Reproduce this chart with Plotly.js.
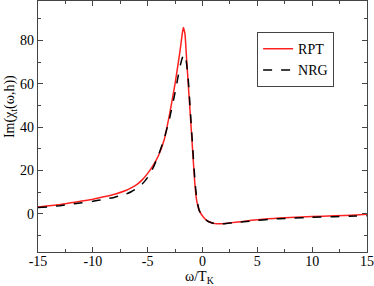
<!DOCTYPE html>
<html><head><meta charset="utf-8">
<script src="https://cdn.plot.ly/plotly-3.0.1.min.js"></script>
<style>
html,body{margin:0;padding:0;background:#fff}
#chart svg text{font-family:"Liberation Serif","Times New Roman",serif !important;}
</style>
</head><body><div id="chart" style="width:374px;height:286px"></div>
<script>
const rptX = [-15,-14,-13,-12,-11,-10,-9,-8,-7,-6.5,-6,-5.5,-5,-4.5,-4,-3.5,-3,-2.5,-2.2,-2,-1.85,-1.75,-1.6,-1.44,-1.3,-1.14,-0.9,-0.7,-0.53,-0.3,0.07,0.5,1.14,1.5,2,3,4,5,6,7,8,10,12,14,15];
const rptY = [3.1,3.6,4.2,5.0,5.8,6.7,7.8,9.0,10.7,11.9,13.4,15.6,18.6,22.3,27.0,34,46,60,70,77,83,86,83,70.7,60,47.7,29.2,14,6,1.5,-1.5,-3.5,-4.6,-4.7,-4.5,-4.0,-3.4,-2.8,-2.4,-2.0,-1.8,-1.3,-1.0,-0.6,-0.3];
const nrgX = [-15,-14,-13,-12,-11,-10,-9,-8,-7,-6.5,-6,-5.5,-5,-4.5,-4,-3.5,-3,-2.5,-2.2,-2,-1.8,-1.65,-1.5,-1.3,-1.14,-0.9,-0.7,-0.53,-0.3,0.07,0.5,1.14,1.5,2,3,4,5,6,7,8,10,12,14,15];
const nrgY = [2.8,3.2,3.7,4.4,5.0,5.7,6.6,7.6,9.0,10.1,11.6,13.7,16.8,21.2,27.2,34.5,44,56,64,69,72.5,73.4,71,62,50,31,16,7,1.5,-1.6,-3.6,-4.7,-4.8,-4.6,-4.1,-3.6,-3.1,-2.7,-2.3,-2.1,-1.7,-1.4,-1.1,-1.0];
const xTicks = [-15,-10,-5,0,5,10,15];
const xTickText = ["-15","-10","-5","0","5","10","15"];
const yTicks = [0,20,40,60,80];
const yTickText = ["0","20","40","60","80"];

const serif = 'Liberation Serif';
const axisCommon = {
  showline:true, mirror:'allticks', linecolor:'#444', linewidth:1.3,
  ticks:'inside', ticklen:5, tickwidth:1, tickcolor:'#444',
  showgrid:false, zeroline:false,
  tickfont:{family:serif, size:14, color:'#000'},
  tickmode:'array'
};
const data = [
  {x:rptX, y:rptY, name:'RPT', mode:'lines', line:{color:'#ff2020', width:1.5, shape:'spline', smoothing:0.4}},
  {x:nrgX, y:nrgY, name:'NRG', mode:'lines', line:{color:'#000', width:1.5, dash:'dash', shape:'spline', smoothing:0.4}}
];
const layout = {
  width:374, height:286,
  margin:{l:38, r:7, t:1, b:34},
  paper_bgcolor:'#fff', plot_bgcolor:'#fff',
  font:{family:serif, color:'#000'},
  showlegend:true,
  legend:{x:0.666, y:0.876, xanchor:'left', yanchor:'top', bgcolor:'#fff', bordercolor:'#444', borderwidth:1,
          font:{family:serif, size:14, color:'#000'}, tracegroupgap:0, itemwidth:30},
  xaxis:Object.assign({}, axisCommon, {range:[-15,15], tickvals:xTicks, ticktext:xTickText, ticklabelstandoff:-4,
          minor:{dtick:2.5, ticks:'inside', ticklen:3, tickcolor:'#444', showgrid:false}}),
  yaxis:Object.assign({}, axisCommon, {range:[-17.7,98.2], tickvals:yTicks, ticktext:yTickText,
          minor:{dtick:10, ticks:'inside', ticklen:3, tickcolor:'#444', showgrid:false}}),
  annotations:[
    {text:'ω/T<sub>K</sub>', xref:'paper', yref:'paper', x:0.49, y:-0.058, xanchor:'center', yanchor:'top',
     showarrow:false, font:{family:serif, size:14, color:'#000'}},
    {text:'Im(χ<sub>t</sub>(ω,h))', xref:'paper', yref:'paper', x:-0.083, y:0.58, xanchor:'center', yanchor:'middle',
     textangle:-90, showarrow:false, font:{family:serif, size:14, color:'#000'}}
  ]
};
Plotly.newPlot('chart', data, layout, {displayModeBar:false, staticPlot:true});
</script></body></html>
